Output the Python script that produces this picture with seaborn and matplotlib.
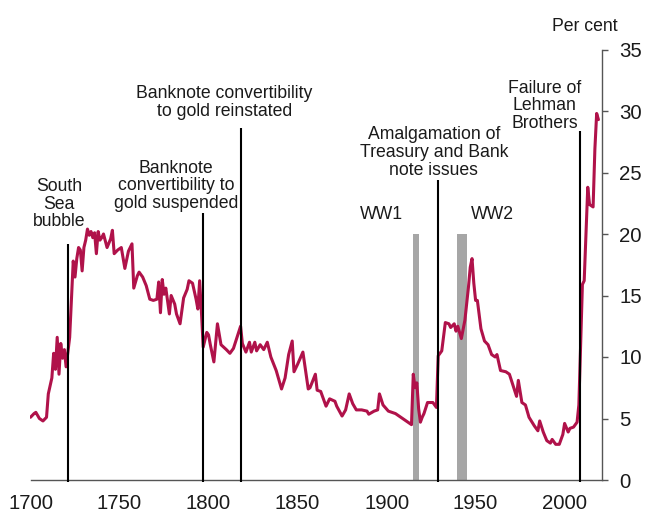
import matplotlib
matplotlib.use("Agg")
import matplotlib.pyplot as plt
import seaborn as sns
import pandas as pd

years = [1700, 1702, 1703, 1705, 1707, 1709, 1710, 1712, 1713, 1714, 1715, 1716, 1717, 1718, 1719, 1720,
         1722, 1724, 1725, 1726, 1727, 1728, 1729, 1730, 1731, 1732, 1733, 1734, 1735, 1736, 1737, 1738,
         1739, 1740, 1741, 1743, 1745, 1746, 1747, 1749, 1751, 1753, 1755, 1757, 1758, 1760, 1761, 1763,
         1765, 1767, 1769, 1771, 1772, 1773, 1774, 1775, 1776, 1778, 1779, 1781, 1782, 1784, 1786, 1788,
         1789, 1791, 1793, 1794, 1795, 1796, 1797, 1799, 1800, 1801, 1803, 1805, 1807, 1810, 1812, 1814,
         1816, 1818, 1819, 1821, 1823, 1824, 1826, 1827, 1829, 1831, 1833, 1835, 1838, 1841, 1843, 1845,
         1847, 1848, 1850, 1853, 1856, 1857, 1860, 1861, 1863, 1866, 1868, 1871, 1872, 1875, 1877, 1879,
         1881, 1883, 1886, 1889, 1890, 1893, 1895, 1896, 1898, 1901, 1903, 1905, 1908, 1911, 1914, 1915,
         1916, 1917, 1918, 1919, 1920, 1921, 1923, 1926, 1928, 1929, 1931, 1933, 1935, 1936, 1938, 1939,
         1940, 1942, 1944, 1946, 1947, 1948, 1949, 1950, 1951, 1953, 1955, 1957, 1959, 1961, 1962, 1964,
         1967, 1969, 1971, 1973, 1974, 1976, 1978, 1980, 1983, 1985, 1986, 1988, 1990, 1992, 1993, 1995,
         1997, 1999, 2000, 2002, 2003, 2005, 2007, 2008, 2010, 2011, 2013, 2014, 2016, 2017, 2018, 2019]
values = [5.1, 5.4, 5.5, 5.0, 4.8, 5.1, 7.0, 8.3, 10.3, 9.0, 11.6, 8.6, 11.1, 9.9, 10.6, 9.2,
          11.6, 17.8, 16.5, 18.0, 18.9, 18.7, 17.0, 18.9, 19.5, 20.4, 19.9, 20.2, 19.7, 20.1, 18.4, 20.2,
          19.5, 19.7, 20.0, 18.9, 19.6, 20.3, 18.4, 18.7, 18.9, 17.2, 18.6, 19.2, 15.6, 16.6, 16.9, 16.5,
          15.8, 14.7, 14.6, 14.7, 16.1, 13.6, 16.3, 15.1, 15.6, 13.5, 15.0, 14.3, 13.5, 12.7, 14.8, 15.5,
          16.2, 16.0, 14.7, 13.9, 16.2, 13.7, 10.8, 12.0, 11.8, 11.0, 9.6, 12.7, 11.0, 10.6, 10.3, 10.7,
          11.6, 12.5, 11.1, 10.4, 11.2, 10.4, 11.2, 10.5, 11.0, 10.6, 11.2, 10.0, 8.9, 7.4, 8.3, 10.2,
          11.3, 8.8, 9.4, 10.4, 7.4, 7.5, 8.6, 7.3, 7.2, 6.0, 6.6, 6.4, 6.0, 5.2, 5.7, 7.0,
          6.2, 5.7, 5.7, 5.6, 5.35, 5.6, 5.7, 7.0, 6.1, 5.6, 5.5, 5.4, 5.1, 4.8, 4.5, 8.6,
          7.5, 7.9, 5.8, 4.7, 5.1, 5.4, 6.3, 6.3, 5.9, 10.1, 10.5, 12.8, 12.7, 12.4, 12.7, 12.1,
          12.5, 11.5, 13.0, 15.7, 17.3, 18.0, 16.0, 14.6, 14.6, 12.3, 11.3, 11.0, 10.2, 10.0, 10.2, 8.9,
          8.8, 8.6, 7.7, 6.8, 8.1, 6.3, 6.1, 5.1, 4.4, 4.0, 4.8, 3.9, 3.2, 3.0, 3.3, 2.9,
          2.9, 3.7, 4.6, 3.9, 4.2, 4.3, 4.7, 6.1, 15.9, 16.2, 23.8, 22.4, 22.2, 26.9, 29.8, 29.3]

# Event markers
event_years = [1720.9, 1797.0, 1818.5, 1928.8, 2008.4]
event_tops = [19.2, 21.7, 28.6, 24.4, 28.4]
event_labels = ["South\nSea\nbubble",
                "Banknote\nconvertibility to\ngold suspended",
                "Banknote convertibility\nto gold reinstated",
                "Amalgamation of\nTreasury and Bank\nnote issues",
                "Failure of\nLehman\nBrothers"]
label_x = [1716, 1781.6, 1809, 1926.5, 1988.7]
label_bottom = [20.3, 21.8, 29.3, 24.5, 28.3]

# War periods
war_names = ["WW1", "WW2"]
war_start = [1914.8, 1939.5]
war_end = [1918.0, 1945.3]
war_height = 20
war_label_x = [1897.3, 1959.5]

xticks = [1700, 1750, 1800, 1850, 1900, 1950, 2000]
yticks = [0, 5, 10, 15, 20, 25, 30, 35]

sns.set_style("white")
plt.rcParams['font.family'] = ['Liberation Sans', 'DejaVu Sans']

df = pd.DataFrame({"year": years, "value": values})

fig = plt.figure(figsize=(6.46, 5.14), dpi=100)
ax = fig.add_axes([30.5 / 646, 34 / 514, (602 - 30.5) / 646, (480 - 49.5) / 514])

text_col = "#1a1a1a"
grey = "#a6a6a6"

# war bars
ax.bar(war_start, [war_height] * len(war_start),
       width=[e - s for s, e in zip(war_start, war_end)], align="edge",
       color=grey, linewidth=0, zorder=1)
for name, xx in zip(war_names, war_label_x):
    ax.text(xx, 21.6, name, ha="center", va="center", fontsize=12.7, color=text_col)

sns.lineplot(data=df, x="year", y="value", ax=ax, color="#b0124a", linewidth=2.2, zorder=3)

# event lines
ax.vlines(event_years, -0.2, event_tops, color="black", linewidth=1.5, zorder=4, clip_on=False)
for lbl, xx, yy in zip(event_labels, label_x, label_bottom):
    ax.text(xx, yy, lbl, ha="center", va="bottom", fontsize=12.7, color=text_col,
            linespacing=1.05, zorder=5)

ax.set_xlim(1700, 2021)
ax.set_ylim(0, 35)
ax.set_xticks(xticks)
ax.set_yticks(yticks)
ax.set_xlabel("")
ax.set_ylabel("")

ax.yaxis.tick_right()
for s in ["top", "left"]:
    ax.spines[s].set_visible(False)
for s in ["bottom", "right"]:
    ax.spines[s].set_color("#555555")
    ax.spines[s].set_linewidth(1.0)

ax.tick_params(axis="x", direction="in", length=5, width=1.0, color="#555555",
               labelsize=14.7, labelcolor=text_col, pad=10)
ax.tick_params(axis="y", direction="out", length=4.5, width=1.0, color="#555555",
               labelsize=14.7, labelcolor=text_col, pad=8, left=False, right=True)

ax.text(2011.6, 36.9, "Per cent", ha="center", va="center", fontsize=12.7,
        color=text_col, clip_on=False)

fig.savefig("out.png", dpi=100)
